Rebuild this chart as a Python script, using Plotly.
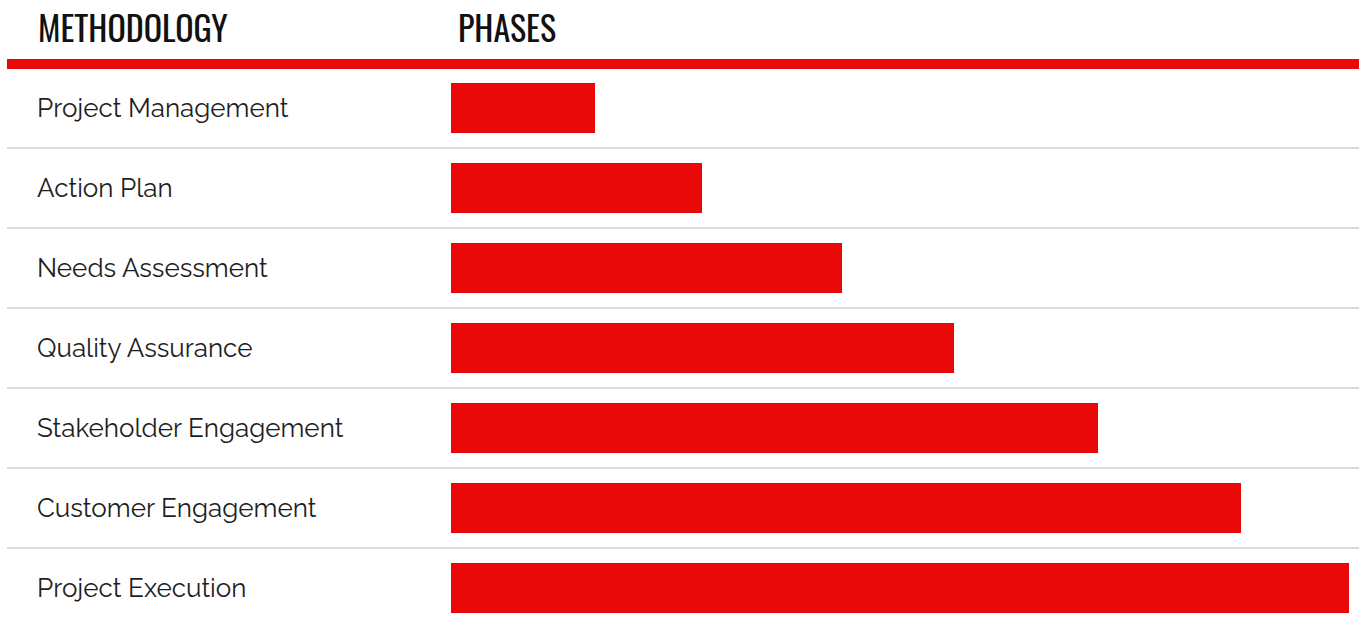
import plotly.graph_objects as go

categories = ["Project Management", "Action Plan", "Needs Assessment", "Quality Assurance",
              "Stakeholder Engagement", "Customer Engagement", "Project Execution"]
values = [16, 28, 43.5, 56, 72, 88, 100]
headers = ["METHODOLOGY", "PHASES"]

RED = "#ea0909"
GRID = "#d6dbdf"

# figure pixel layout (body margin removed via post_script)
W, H = 1359, 624
bar0_px, bar100_px = 451, 1349
left_px = 7
ppu = (bar100_px - bar0_px) / 100.0
x_lo = -bar0_px / ppu
x_hi = (W - bar0_px) / ppu
top_px = 59
row_px = 80
row0_top = 68
y_top = -0.5 - (row0_top - top_px) / row_px
y_bot = y_top + (H - top_px) / row_px

fig = go.Figure()
fig.add_trace(go.Bar(
    x=values, y=categories, orientation="h", base=0,
    marker=dict(color=RED, line=dict(width=0)), width=0.625,
    hoverinfo="x+y",
))

shapes = []
shapes.append(dict(type="rect", xref="x", yref="y", x0=x_lo + left_px / ppu, x1=x_hi,
                   y0=y_top, y1=y_top + 10 / row_px, fillcolor=RED, line=dict(width=0), layer="above"))
for i in range(len(categories) - 1):
    shapes.append(dict(type="line", xref="x", yref="y", x0=x_lo + left_px / ppu, x1=x_hi, y0=i + 0.5, y1=i + 0.5,
                       line=dict(color=GRID, width=2), layer="below"))

annotations = []
for c in categories:
    annotations.append(dict(x=x_lo + 35 / ppu, y=c, xref="x", yref="y", text=c,
                            showarrow=False, xanchor="left", yanchor="middle",
                            font=dict(family="Raleway, Lato, 'Open Sans', sans-serif", size=26, color="#1e1e1e")))
hdr_y = 1 + (top_px - 26) / (H - top_px)
for h, px in zip(headers, [37, 457]):
    annotations.append(dict(x=x_lo + px / ppu, y=hdr_y, xref="x", yref="paper", text=h,
                            showarrow=False, xanchor="left", yanchor="middle", borderpad=0,
                            font=dict(family="Oswald, 'Liberation Sans Narrow', 'DejaVu Sans Condensed', sans-serif",
                                      size=34, color="#111111", weight=400)))

fig.update_layout(
    width=W, height=H,
    margin=dict(l=0, r=0, t=top_px, b=0),
    paper_bgcolor="white", plot_bgcolor="white",
    showlegend=False,
    xaxis=dict(range=[x_lo, x_hi], visible=False, fixedrange=True),
    yaxis=dict(range=[y_bot, y_top], categoryorder="array", categoryarray=categories,
               visible=False, fixedrange=True),
    shapes=shapes, annotations=annotations,
    bargap=0,
)
fig.write_html("out.html", config={"displayModeBar": False},
               post_script="document.body.style.margin='0';document.body.style.overflow='hidden';")
